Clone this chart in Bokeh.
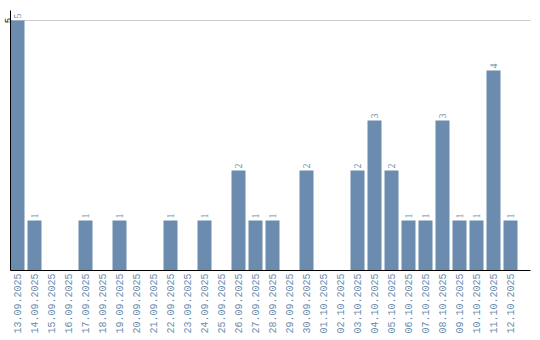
import math
from bokeh.plotting import figure
from bokeh.models import Range1d, FixedTicker, ColumnDataSource
from bokeh.embed import file_html
from bokeh.resources import INLINE

dates = ["13.09.2025", "14.09.2025", "15.09.2025", "16.09.2025", "17.09.2025",
         "18.09.2025", "19.09.2025", "20.09.2025", "21.09.2025", "22.09.2025",
         "23.09.2025", "24.09.2025", "25.09.2025", "26.09.2025", "27.09.2025",
         "28.09.2025", "29.09.2025", "30.09.2025", "01.10.2025", "02.10.2025",
         "03.10.2025", "04.10.2025", "05.10.2025", "06.10.2025", "07.10.2025",
         "08.10.2025", "09.10.2025", "10.10.2025", "11.10.2025", "12.10.2025"]
counts = [5, 1, 0, 0, 1, 0, 1, 0, 0, 1,
          0, 1, 0, 2, 1, 1, 0, 2, 0, 0,
          2, 3, 2, 1, 1, 3, 1, 1, 4, 1]
y_ticks = [5]

BAR = "#6b8cae"
FONT = "Liberation Mono"

idx = list(range(len(dates)))
src = ColumnDataSource(dict(x=idx, top=counts))
lab_x = [i for i, c in zip(idx, counts) if c > 0]
lab_y = [c for c in counts if c > 0]
lab_t = [str(c) for c in counts if c > 0]
lab_src = ColumnDataSource(dict(x=lab_x, y=lab_y, t=lab_t))

slot = 17.0
start = -7.0 / slot
p = figure(width=540, height=340, output_backend="svg", toolbar_location=None,
           x_range=Range1d(start, start + 520.0 / slot), y_range=Range1d(0, 5.2),
           min_border_left=10, min_border_right=10, min_border_top=10, min_border_bottom=70)
p.outline_line_color = None
p.background_fill_color = "white"
p.border_fill_color = "white"

p.vbar(x="x", top="top", width=14.0 / slot, bottom=0, source=src,
       fill_color=BAR, line_color=None)
p.text(x="x", y="y", text="t", source=lab_src, angle=math.pi / 2,
       text_align="left", text_baseline="middle", y_offset=-2,
       text_font=FONT, text_font_size="10px", text_color=BAR)

xa = p.xaxis[0]
xa.ticker = FixedTicker(ticks=idx)
xa.major_label_overrides = {i: d for i, d in zip(idx, dates)}
xa.major_label_orientation = math.pi / 2
xa.major_label_text_font = FONT
xa.major_label_text_font_size = "10px"
xa.major_label_text_color = BAR
xa.major_label_standoff = 3
xa.major_tick_out = 0
xa.major_tick_in = 0
xa.major_tick_line_color = None
xa.minor_tick_line_color = None
xa.axis_line_color = "black"
xa.axis_line_width = 1

ya = p.yaxis[0]
ya.ticker = FixedTicker(ticks=y_ticks)
ya.major_label_orientation = "vertical"
ya.major_label_text_font = FONT
ya.major_label_text_font_size = "9px"
ya.major_label_text_color = "black"
ya.major_label_standoff = 0
ya.major_tick_out = 0
ya.major_tick_in = 0
ya.major_tick_line_color = None
ya.minor_tick_line_color = None
ya.axis_line_color = "black"

p.xgrid.grid_line_color = None
p.ygrid.grid_line_color = "#cccccc"
p.ygrid.ticker = FixedTicker(ticks=y_ticks)

open("out.html", "w").write(file_html(p, INLINE))
